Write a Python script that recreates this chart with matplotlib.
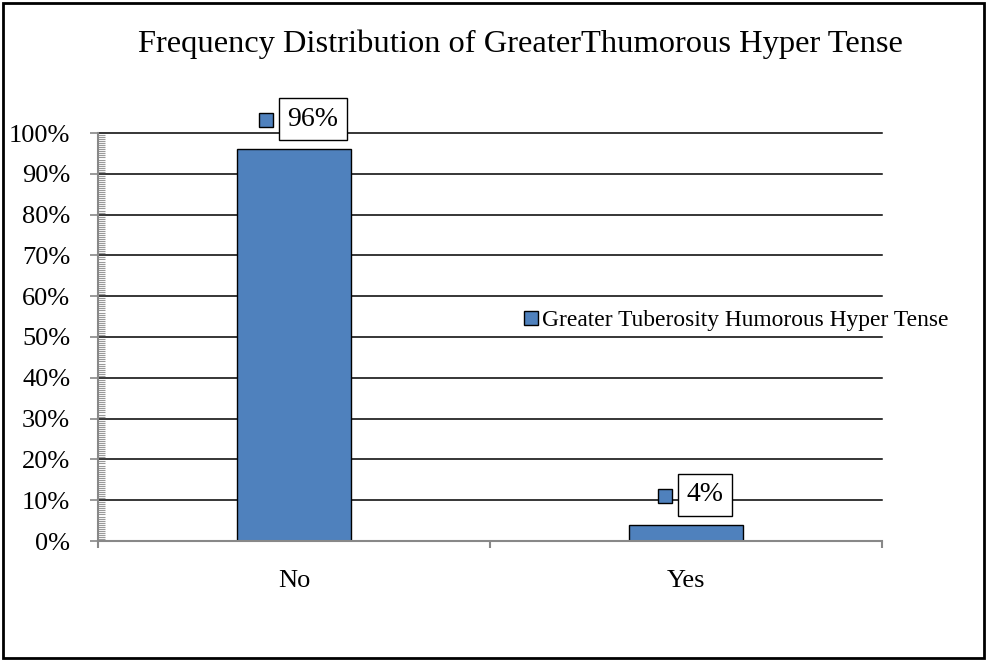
import matplotlib
matplotlib.use("Agg")
import matplotlib.pyplot as plt
from matplotlib.ticker import MultipleLocator, FuncFormatter, FixedLocator
from matplotlib.patches import Rectangle
import matplotlib.lines as mlines

categories = ["No", "Yes"]
values = [0.96, 0.04]
labels = ["96%", "4%"]
series_name = "Greater Tuberosity Humorous Hyper Tense"
title = "Frequency Distribution of GreaterThumorous Hyper Tense"

W, H = 986, 660
DPI = 100
plt.rcParams['font.family'] = ['Liberation Serif', 'DejaVu Serif']

fig = plt.figure(figsize=(W / DPI, H / DPI), dpi=DPI)
ax = fig.add_axes([98 / W, (H - 541) / H, (882 - 98) / W, (541 - 133) / H])

bar_color = "#4F81BD"
x = list(range(len(categories)))
bars = ax.bar(x, values, width=0.29, color=bar_color, edgecolor="black", linewidth=1.0, zorder=3)

ax.set_xlim(-0.5, 1.5)
ax.set_ylim(0, 1.0)

# grid
ax.yaxis.set_major_locator(MultipleLocator(0.1))
ax.yaxis.set_minor_locator(MultipleLocator(0.005))
ax.yaxis.set_major_formatter(FuncFormatter(lambda v, p: f"{int(round(v * 100))}%"))
ax.grid(axis='y', which='major', color='black', linewidth=1.1, zorder=1)
ax.set_axisbelow(True)
for gl in ax.get_ygridlines():
    gl.set_clip_on(False)

ax.tick_params(axis='y', which='major', length=6, width=1.2, color='#888888', direction='out',
               labelsize=19, pad=14)
ax.tick_params(axis='y', which='minor', length=5, width=0.8, color='#999999', direction='in')

ax.set_xticks(x)
ax.set_xticklabels(categories)
ax.xaxis.set_minor_locator(FixedLocator([-0.5, 0.5, 1.5]))
ax.tick_params(axis='x', which='major', length=0, labelsize=19, pad=21)
ax.tick_params(axis='x', which='minor', length=5, width=1.5, color='#888888', direction='out')

for s in ['top', 'right']:
    ax.spines[s].set_visible(False)
for s in ['left', 'bottom']:
    ax.spines[s].set_color('#888888')
    ax.spines[s].set_linewidth(1.5)
ax.spines['bottom'].set_zorder(4)

# title
fig.text(520 / W, 1 - 44 / H, title, ha='center', va='center', fontsize=23.4)

# legend
handle = mlines.Line2D([], [], marker='s', linestyle='none', markersize=10,
                       markerfacecolor=bar_color, markeredgecolor='black', markeredgewidth=1)
fig.legend([handle], [series_name], loc='center left', bbox_to_anchor=(510 / W, 1 - 320 / H),
           frameon=False, fontsize=16.9, handletextpad=0.05, handlelength=0.8, borderpad=0)

# data labels
texts = []
for xi, v, lab in zip(x, values, labels):
    t = ax.annotate(lab, xy=(xi, v), xytext=(19, 30), textcoords='offset pixels',
                    ha='center', va='center', fontsize=20, zorder=5,
                    bbox=dict(boxstyle='square,pad=0.3', facecolor='white', edgecolor='black', linewidth=1))
    texts.append(t)

fig.canvas.draw()
renderer = fig.canvas.get_renderer()
for t, xi, v in zip(texts, x, values):
    bb = t.get_bbox_patch().get_window_extent(renderer)
    cx = bb.x0 - 13
    cy = (bb.y0 + bb.y1) / 2 - 1
    fx, fy = fig.transFigure.inverted().transform((cx, cy))
    fig.add_artist(mlines.Line2D([fx], [fy], marker='s', markersize=10.5, markerfacecolor=bar_color,
                                 markeredgecolor='black', markeredgewidth=1, linestyle='none',
                                 transform=fig.transFigure))

# outer border
fig.add_artist(Rectangle((3 / W, 2 / H), 981 / W, 655 / H, transform=fig.transFigure,
                         fill=False, edgecolor='black', linewidth=2))

fig.savefig("out.png", dpi=DPI)
